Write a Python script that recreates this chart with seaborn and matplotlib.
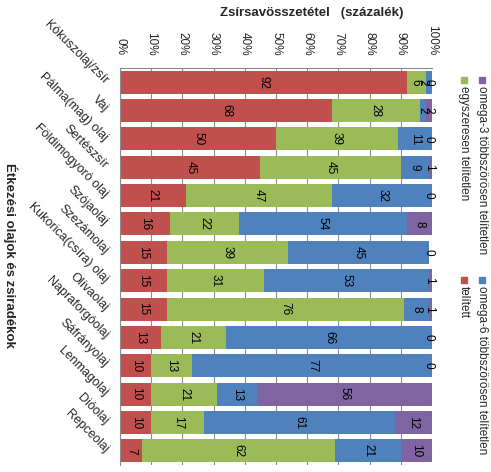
import numpy as np
import pandas as pd
import seaborn as sns
import matplotlib.pyplot as plt
import matplotlib.patches as patches

oils = ["Kókuszolaj/zsír", "Vaj", "Pálma(mag) olaj", "Sertészsír", "Földimogyoró olaj",
        "Szójaolaj", "Szezámolaj", "Kukorica(csíra) olaj", "Olívaolaj", "Napraforgóolaj",
        "Sáfrányolaj", "Lenmagolaj", "Dióolaj", "Repceolaj"]
telitett = [92, 68, 50, 45, 21, 16, 15, 15, 15, 13, 10, 10, 10, 7]
egyszeresen = [6, 28, 39, 45, 47, 22, 39, 31, 76, 21, 13, 21, 17, 62]
omega6 = [2, 2, 11, 9, 32, 54, 45, 53, 8, 66, 77, 13, 61, 21]
omega3 = [0, 2, 0, 1, 0, 8, 0, 1, 1, 0, 0, 56, 12, 10]

series = ["telített", "egyszeresen telítetlen",
          "omega-6 többszörösen telítetlen", "omega-3 többszörösen telítetlen"]
colors = ["#C0504D", "#9BBB59", "#4F81BD", "#8064A2"]
ticks = list(range(0, 101, 10))

sns.set_theme(style="white")
plt.rcParams['font.family'] = ['Liberation Sans', 'DejaVu Sans']

df = pd.DataFrame({"oil": oils, series[0]: telitett, series[1]: egyszeresen,
                   series[2]: omega6, series[3]: omega3})
vals = df[series].to_numpy()
cum = vals.cumsum(axis=1)
for j, s in enumerate(series):
    df["cum_" + s] = cum[:, j]

fig = plt.figure(figsize=(4.91, 4.72), dpi=100)
ax = fig.add_axes([120 / 491, 7 / 472, 312 / 491, 397 / 472])

# stacked bars: draw cumulative totals from the outermost segment inward
for j in range(len(series) - 1, -1, -1):
    sns.barplot(data=df, x="cum_" + series[j], y="oil", orient="h",
                color=colors[j], saturation=1, width=0.81, errorbar=None,
                linewidth=0, ax=ax)

# segment value labels (small segments pushed apart a little)
for i in range(len(oils)):
    pos = (cum[i] - vals[i] / 2.0).astype(float)
    pos[3] = min(pos[3], 99.0)
    for j in range(2, -1, -1):
        pos[j] = min(pos[j], pos[j + 1] - 2.2)
    for j in range(len(series)):
        ax.text(pos[j], i, str(vals[i, j]), rotation=-90, ha="center",
                va="center", fontsize=8.5, color="black")

ax.set_xlim(0, 100)
ax.set_ylim(len(oils) - 0.5, -0.5)
ax.xaxis.tick_top()
ax.set_xticks(ticks)
ax.set_xticklabels([f"{t}%" for t in ticks], rotation=-90, fontsize=8.5)
ax.set_yticks(range(len(oils)))
ax.set_yticklabels(oils, rotation=-45, ha="right", va="center",
                   rotation_mode="anchor", fontsize=9)
ax.tick_params(axis="x", length=0, pad=9)
ax.tick_params(axis="y", length=0, pad=10)
ax.set_xlabel("")
ax.set_ylabel("")

ax.set_axisbelow(True)
ax.grid(axis="x", color="#8c8c8c", linewidth=0.8)
ax.grid(axis="y", visible=False)
for side in ["right", "bottom"]:
    ax.spines[side].set_visible(False)
for side in ["left", "top"]:
    ax.spines[side].set_color("#8c8c8c")
    ax.spines[side].set_linewidth(0.8)

fig.text(312 / 491, 1 - 13 / 472, "Zsírsavösszetétel   (százalék)",
         ha="center", va="center", fontsize=9.5, fontweight="bold")
fig.text(10 / 491, 1 - 255 / 472, "Étkezési olajok és zsiradékok",
         rotation=-90, ha="center", va="center", fontsize=9.5, fontweight="bold")

# rotated legend, one entry per series (same order as series)
legend_pos = [(464, 280), (464, 80), (482, 280), (482, 80)]
for j, (lx, ly) in enumerate(legend_pos):
    fig.patches.append(patches.Rectangle(((lx - 3) / 491, 1 - (ly + 3) / 472),
                                         6 / 491, 6 / 472, color=colors[j],
                                         transform=fig.transFigure, figure=fig))
    fig.text(lx / 491, 1 - (ly + 6) / 472, series[j], rotation=-90,
             ha="center", va="top", fontsize=8.5)

fig.savefig("out.png", dpi=100)
